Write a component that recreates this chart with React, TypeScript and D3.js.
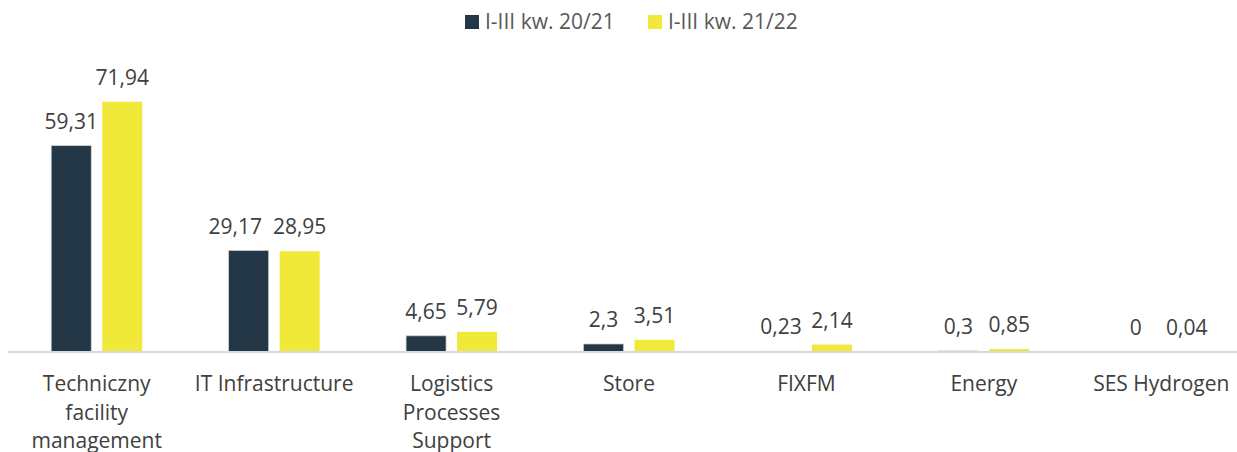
import React, { useEffect, useRef } from "react";
import * as d3 from "d3";

const categories: string[][] = [
  ["Techniczny", "facility", "management"],
  ["IT Infrastructure"],
  ["Logistics", "Processes", "Support"],
  ["Store"],
  ["FIXFM"],
  ["Energy"],
  ["SES Hydrogen"],
];
const seriesNames = ["I-III kw. 20/21", "I-III kw. 21/22"];
const series2021 = [59.31, 29.17, 4.65, 2.3, 0.23, 0.3, 0];
const series2122 = [71.94, 28.95, 5.79, 3.51, 2.14, 0.85, 0.04];
const valueLabels2021 = ["59,31", "29,17", "4,65", "2,3", "0,23", "0,3", "0"];
const valueLabels2122 = ["71,94", "28,95", "5,79", "3,51", "2,14", "0,85", "0,04"];
const colors = ["#243746", "#F0E93A"];

const W = 1237;
const H = 452;
const FONT = "'Open Sans', sans-serif";

export default function App() {
  const ref = useRef<SVGSVGElement>(null);

  useEffect(() => {
    const svg = d3.select(ref.current);
    svg.selectAll("*").remove();

    const x = d3
      .scaleBand<number>()
      .domain(d3.range(categories.length))
      .range([8, 1250])
      .paddingInner(0)
      .paddingOuter(0);
    const xs = d3.scaleBand<number>().domain([0, 1]).range([0, 91]).paddingInner(11 / 51).paddingOuter(0);
    const y = d3.scaleLinear().domain([0, 80]).range([352, 73.7]);

    const data = [series2021, series2122];
    const labels = [valueLabels2021, valueLabels2122];

    const g = svg.append("g");

    // bars
    data.forEach((vals, s) => {
      g.selectAll(`.bar${s}`)
        .data(vals)
        .enter()
        .append("rect")
        .attr("x", (_, i) => x(i)! + x.bandwidth() / 2 - 45.5 + xs(s)!)
        .attr("y", (v) => y(v))
        .attr("width", xs.bandwidth())
        .attr("height", (v) => y(0) - y(v))
        .attr("fill", colors[s])
        .attr("stroke", s === 0 ? "#c9cdd2" : "none")
        .attr("stroke-width", s === 0 ? 0.75 : 0);
    });

    // axis line
    g.append("line")
      .attr("x1", 8)
      .attr("x2", W)
      .attr("y1", y(0))
      .attr("y2", y(0))
      .attr("stroke", "#d9d9d9")
      .attr("stroke-width", 2);

    // value labels
    categories.forEach((_, i) => {
      const texts = [0, 1].map((s) => {
        const cx = x(i)! + x.bandwidth() / 2 - 45.5 + xs(s)! + xs.bandwidth() / 2;
        const t = g
          .append("text")
          .attr("x", cx)
          .attr("y", y(data[s][i]) - 17)
          .attr("text-anchor", "middle")
          .attr("font-family", FONT)
          .attr("font-size", 21)
          .attr("fill", "#404040")
          .text(labels[s][i]);
        return { t, cx, yy: y(data[s][i]) - 17 };
      });
      const w0 = (texts[0].t.node() as SVGTextElement).getComputedTextLength();
      const w1 = (texts[1].t.node() as SVGTextElement).getComputedTextLength();
      const gap = texts[1].cx - w1 / 2 - (texts[0].cx + w0 / 2);
      if (Math.abs(texts[0].yy - texts[1].yy) < 20 && gap < 4) {
        texts[0].t.attr("x", texts[0].cx - (11 - gap));
      }
    });

    // category labels
    categories.forEach((lines, i) => {
      const t = g
        .append("text")
        .attr("text-anchor", "middle")
        .attr("font-family", FONT)
        .attr("font-size", 21)
        .attr("fill", "#404040");
      lines.forEach((ln, k) => {
        t.append("tspan")
          .attr("x", x(i)! + x.bandwidth() / 2)
          .attr("y", 391 + k * 28.5)
          .text(ln);
      });
    });

    // legend
    const legendX = [465, 648];
    seriesNames.forEach((name, s) => {
      g.append("rect")
        .attr("x", legendX[s])
        .attr("y", 15)
        .attr("width", 14)
        .attr("height", 14)
        .attr("fill", colors[s]);
      g.append("text")
        .attr("x", legendX[s] + 20)
        .attr("y", 28.5)
        .attr("font-family", FONT)
        .attr("font-size", 21)
        .attr("fill", "#595959")
        .text(name);
    });
  }, []);

  return (
    <svg
      ref={ref}
      width={W}
      height={H}
      style={{ position: "absolute", left: 0, top: 0, background: "#fff" }}
    />
  );
}
